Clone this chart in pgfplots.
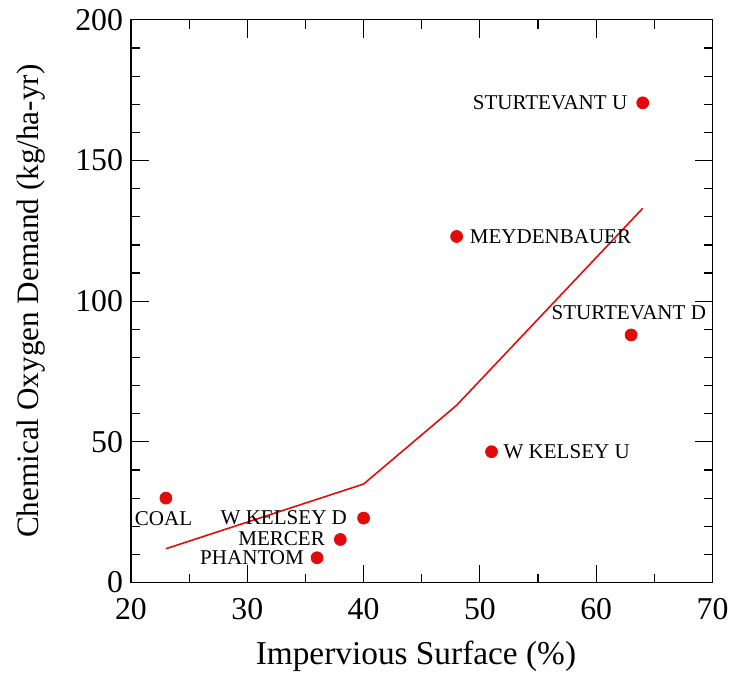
\documentclass[border=0pt]{standalone}
\usepackage{fontspec}
\setmainfont{Liberation Serif}
\usepackage{pgfplots}
\pgfplotsset{compat=1.18}
\definecolor{ptred}{RGB}{226,10,10}
\begin{document}
\begin{tikzpicture}
\begin{axis}[
  width=293pt, height=283.5pt, scale only axis,
  xmin=20, xmax=70, ymin=0, ymax=200,
  xtick={20,30,...,70}, ytick={0,50,...,200},
  minor xtick={25,35,...,65}, minor ytick={10,20,30,40,60,70,80,90,110,120,130,140,160,170,180,190},
  tick align=inside, tick pos=both,
  major tick length=9pt, minor tick length=4.5pt,
  every tick/.style={black, line width=0.6pt},
  axis line style={line width=0.6pt},
  /pgf/number format/assume math mode=true,
  ticklabel style={font=\fontsize{16}{19}\selectfont},
  xticklabel style={yshift=-4.5pt},
  yticklabel style={xshift=-0.5pt},
  xlabel={Impervious Surface (\%)},
  ylabel={Chemical Oxygen Demand (kg/ha-yr)},
  xlabel style={font=\fontsize{16.8}{20}\selectfont, at={(axis description cs:0.49,-0.131)}, anchor=center},
  ylabel style={font=\fontsize{15.7}{19}\selectfont, at={(axis description cs:-0.172,0.5)}, anchor=center},
  clip=false,
]
\addplot[ptred, line width=0.8pt] coordinates {(23,12) (40,35) (48,63) (64,133)};
\addplot[only marks, mark=*, mark size=3pt, ptred] coordinates {
  (23,30) (36,8.8) (38,15.3) (40,22.9) (48,123) (51,46.5) (63,88) (64,170.5)};
\begin{scope}[every node/.style={font=\fontsize{10.6}{12}\selectfont, inner sep=0pt}]
\node[anchor=east] at (axis cs:62.7,170.5) {STURTEVANT U};
\node[anchor=west] at (axis cs:49.1,123) {MEYDENBAUER};
\node at (axis cs:62.8,96) {STURTEVANT D};
\node[anchor=west] at (axis cs:52,46.5) {W KELSEY U};
\node[anchor=east] at (axis cs:38.6,22.9) {W KELSEY D};
\node[anchor=east] at (axis cs:36.7,15.5) {MERCER};
\node[anchor=east] at (axis cs:34.9,8.9) {PHANTOM};
\node at (axis cs:22.8,22.6) {COAL};
\end{scope}
\end{axis}
% page margins as in the reference
\path (current axis.south west) ++(-66pt,-45pt) (current axis.north east) ++(9pt,10pt);
\end{tikzpicture}
\end{document}
